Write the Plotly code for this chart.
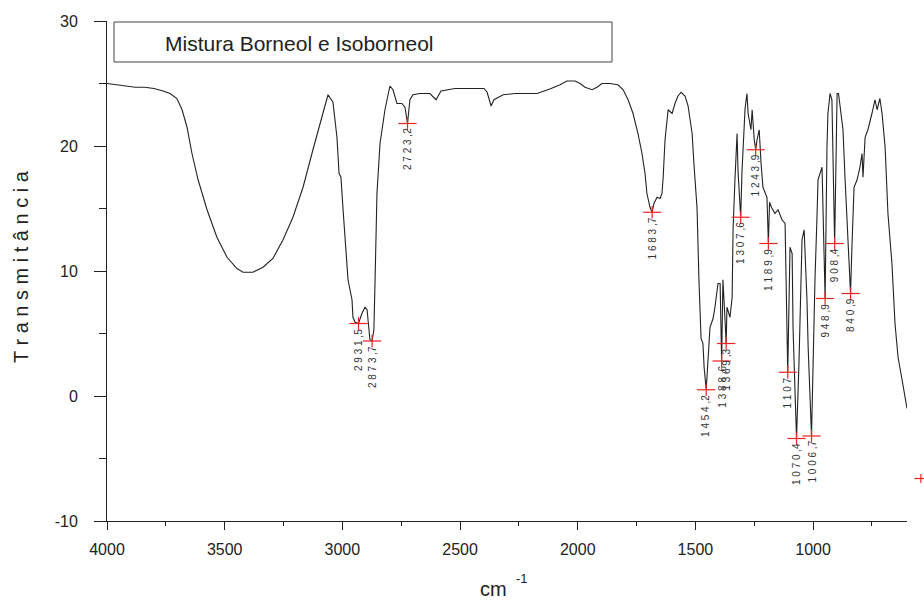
import plotly.graph_objects as go

# ---- spectrum (wavenumber cm-1, transmittance) ----
wavenumber = [4000, 3960, 3920, 3880, 3840, 3800, 3762, 3732, 3703, 3681, 3660, 3639,
              3613, 3575, 3533, 3490, 3448, 3422, 3380, 3337, 3295, 3252, 3210, 3167,
              3125, 3086, 3061, 3040, 3023, 3014, 3006, 2997, 2980, 2976, 2959, 2955,
              2946, 2931.5, 2917, 2904, 2895, 2883, 2873.7, 2866, 2861, 2853, 2840, 2819,
              2798, 2785, 2768, 2747, 2734, 2723.2, 2713, 2700, 2670, 2628, 2602, 2581,
              2521, 2458, 2398, 2385, 2368, 2356, 2317, 2266, 2173, 2113, 2075, 2046,
              2011, 1990, 1969, 1939, 1918, 1897, 1863, 1829, 1807, 1786, 1765, 1744,
              1727, 1714, 1706, 1693, 1683.7, 1676, 1663, 1650, 1642, 1637, 1629, 1616,
              1599, 1587, 1574, 1561, 1544, 1531, 1514, 1506, 1493, 1485, 1476, 1468,
              1463, 1454.2, 1450, 1438, 1425, 1417, 1404, 1395, 1388.6, 1383, 1374, 1369.3,
              1366, 1353, 1344, 1340, 1332, 1323, 1319, 1307.6, 1302, 1289, 1281, 1276,
              1264, 1259, 1250, 1243.9, 1238, 1229, 1221, 1213, 1196, 1189.9, 1185, 1177,
              1162, 1149, 1132, 1119, 1107.7, 1103, 1098, 1089, 1085, 1070.4, 1060, 1047,
              1038, 1026, 1021, 1006.7, 1000, 992, 983, 979, 962, 948.9, 941, 937,
              928, 920, 908.4, 902, 898, 892, 885, 873, 864, 856, 840.9, 835,
              826, 813, 801, 792, 788, 779, 767, 750, 737, 728, 716, 707,
              694, 682, 665, 652, 639, 622, 609, 601]
transmittance = [25.0, 24.9, 24.8, 24.7, 24.7, 24.6, 24.4, 24.2, 23.8, 22.9, 21.5, 19.4,
                 17.3, 14.9, 12.7, 11.1, 10.2, 9.9, 9.9, 10.3, 11.0, 12.5, 14.3, 16.7,
                 19.7, 22.3, 24.1, 23.5, 20.7, 17.8, 17.5, 14.9, 10.3, 9.3, 7.7, 6.3,
                 5.9, 5.8, 6.6, 7.1, 6.9, 4.5, 4.4, 5.3, 9.3, 16.2, 20.2, 22.9,
                 24.8, 24.5, 23.4, 23.4, 23.1, 21.8, 23.7, 24.1, 24.2, 24.2, 23.7, 24.4,
                 24.6, 24.6, 24.6, 24.3, 23.2, 23.7, 24.1, 24.2, 24.2, 24.6, 24.9, 25.2,
                 25.2, 25.0, 24.7, 24.5, 24.7, 25.0, 25.0, 24.9, 24.5, 23.7, 22.6, 21.0,
                 19.4, 17.8, 16.2, 15.1, 14.7, 15.4, 15.9, 15.8, 16.2, 17.5, 20.5, 22.9,
                 22.6, 23.4, 24.0, 24.3, 24.0, 23.2, 21.0, 18.5, 15.0, 9.3, 4.6, 4.2,
                 2.3, 0.5, 1.8, 5.5, 6.2, 7.1, 9.0, 9.0, 2.8, 9.3, 6.0, 4.2,
                 7.1, 6.3, 7.9, 13.3, 17.3, 21.0, 18.0, 14.3, 18.0, 23.0, 24.2, 22.6,
                 21.3, 22.9, 20.5, 19.7, 20.5, 21.3, 18.6, 16.7, 15.9, 12.2, 15.5, 15.1,
                 14.6, 14.9, 14.1, 13.8, 1.9, 6.6, 11.9, 11.4, 5.3, -3.4, 2.6, 12.5,
                 13.3, 7.7, 3.9, -3.2, 3.9, 9.3, 14.6, 17.3, 18.3, 7.8, 19.9, 22.6,
                 24.2, 23.7, 12.2, 22.6, 24.2, 24.2, 23.1, 21.3, 17.3, 14.1, 8.2, 11.9,
                 16.7, 17.3, 18.3, 19.4, 17.5, 20.7, 21.3, 22.6, 23.7, 22.9, 23.8, 22.6,
                 19.9, 14.6, 10.6, 5.8, 3.1, 1.3, -0.3, -1.0]

# ---- picked peaks ----
peak_wn = [2931.5, 2873.7, 2723.2, 1683.7, 1454.2, 1388.6, 1369.3, 1307.6, 1243.9,
           1189.9, 1107.7, 1070.4, 1006.7, 948.9, 908.4, 840.9]
peak_t = [5.8, 4.4, 21.8, 14.7, 0.5, 2.8, 4.2, 14.3, 19.7,
          12.2, 1.9, -3.4, -3.2, 7.8, 12.2, 8.2]
peak_labels = ["2931,5", "2873,7", "2723,2", "1683,7", "1454,2", "1388,6", "1369,3",
               "1307,6", "1243,9", "1189,9", "1107", "1070,4", "1006,7", "948,9",
               "908,4", "840,9"]
# one picked peak lies just beyond the right end of the axis
outside_peak_wn = [542]
outside_peak_t = [-6.6]

y_ticks = [-10, 0, 10, 20, 30]
x_ticks = [4000, 3500, 3000, 2500, 2000, 1500, 1000]
x_range = [4000, 601]
y_range = [-10, 30]

title_text = "Mistura Borneol e Isoborneol"
y_title = "Transmitância"
x_title = "cm"
x_title_sup = "-1"

FONT = "Liberation Sans, Arial, Helvetica, sans-serif"
INK = "#222222"
RED = "#ee2222"


def spaced(s):
    body, _, dec = s.partition(",")
    out = " ".join(body)
    if dec:
        out += " ," + dec
    return out


fig = go.Figure()
fig.add_trace(go.Scatter(x=wavenumber, y=transmittance, mode="lines",
                         line=dict(color=INK, width=1.1), hoverinfo="skip",
                         showlegend=False))
fig.add_trace(go.Scatter(x=peak_wn, y=peak_t, mode="markers", cliponaxis=False,
                         marker=dict(symbol="line-ew", size=13,
                                     line=dict(color=RED, width=1.2)),
                         hoverinfo="skip", showlegend=False))
fig.add_trace(go.Scatter(x=peak_wn, y=peak_t, mode="markers", cliponaxis=False,
                         marker=dict(symbol="line-ns", size=9,
                                     line=dict(color=RED, width=1.2)),
                         hoverinfo="skip", showlegend=False))

annotations = []
for wn, t, lab in zip(peak_wn, peak_t, peak_labels):
    annotations.append(dict(x=wn, y=t, xref="x", yref="y", text=spaced(lab),
                            textangle=-90, showarrow=False, xanchor="center",
                            yanchor="top", yshift=-3,
                            font=dict(family=FONT, size=10, color="#333333")))

shapes = [dict(type="rect", xref="paper", yref="paper",
               x0=(114 - 107) / 800, x1=(612 - 107) / 800,
               y0=(521 - 62) / 500, y1=(521 - 22) / 500,
               line=dict(color="#444444", width=1), fillcolor="rgba(0,0,0,0)")]

# cross markers for the peak beyond the axis end (placed through the axis scale)
for wn, t in zip(outside_peak_wn, outside_peak_t):
    xp = (x_range[0] - wn) / (x_range[0] - x_range[1])
    yp = (t - y_range[0]) / (y_range[1] - y_range[0])
    shapes.append(dict(type="line", xref="paper", yref="paper",
                       xsizemode="pixel", xanchor=xp, x0=-6.5, x1=6.5,
                       ysizemode="pixel", yanchor=yp, y0=0, y1=0,
                       line=dict(color=RED, width=1.2)))
    shapes.append(dict(type="line", xref="paper", yref="paper",
                       xsizemode="pixel", xanchor=xp, x0=0, x1=0,
                       ysizemode="pixel", yanchor=yp, y0=-4.5, y1=4.5,
                       line=dict(color=RED, width=1.2)))

# boxed caption
annotations.append(dict(x=(163 - 107) / 800, y=(521 - 43) / 500, xref="paper", yref="paper",
                        text=title_text, showarrow=False, xanchor="left", yanchor="middle",
                        font=dict(family=FONT, size=21, color=INK)))
# y title
annotations.append(dict(x=(21 - 107) / 800, y=(521 - 267) / 500, xref="paper", yref="paper",
                        text=" ".join(y_title), textangle=-90, showarrow=False,
                        xanchor="center", yanchor="middle",
                        font=dict(family=FONT, size=20, color=INK)))
# x title
annotations.append(dict(x=(493 - 107) / 800, y=(521 - 589) / 500, xref="paper", yref="paper",
                        text=x_title, showarrow=False, xanchor="center", yanchor="middle",
                        font=dict(family=FONT, size=20, color=INK)))
annotations.append(dict(x=(522 - 107) / 800, y=(521 - 578) / 500, xref="paper", yref="paper",
                        text=x_title_sup, showarrow=False, xanchor="center", yanchor="middle",
                        font=dict(family=FONT, size=13, color=INK)))

fig.update_layout(
    width=924, height=601,
    margin=dict(l=107, r=17, t=21, b=80, pad=0),
    paper_bgcolor="white", plot_bgcolor="white",
    font=dict(family=FONT, color=INK),
    annotations=annotations,
    shapes=shapes,
)
fig.update_xaxes(range=x_range, tickvals=x_ticks, ticktext=[str(v) for v in x_ticks],
                 showline=True, linecolor=INK, linewidth=1, ticks="outside", ticklen=8,
                 tickcolor=INK, tickwidth=1, showgrid=False, zeroline=False,
                 tickfont=dict(family=FONT, size=16, color=INK), ticklabelstandoff=6,
                 minor=dict(dtick=250, tick0=0, ticks="outside", ticklen=4,
                            tickcolor=INK, showgrid=False))
fig.update_yaxes(range=y_range, tickvals=y_ticks, ticktext=[str(v) for v in y_ticks],
                 showline=True, linecolor=INK, linewidth=1, ticks="outside", ticklen=12,
                 tickcolor=INK, tickwidth=1, showgrid=False, zeroline=False,
                 tickfont=dict(family=FONT, size=16, color=INK), ticklabelstandoff=13,
                 minor=dict(dtick=5, tick0=0, ticks="outside", ticklen=7,
                            tickcolor=INK, showgrid=False))

fig.write_html("out.html")
